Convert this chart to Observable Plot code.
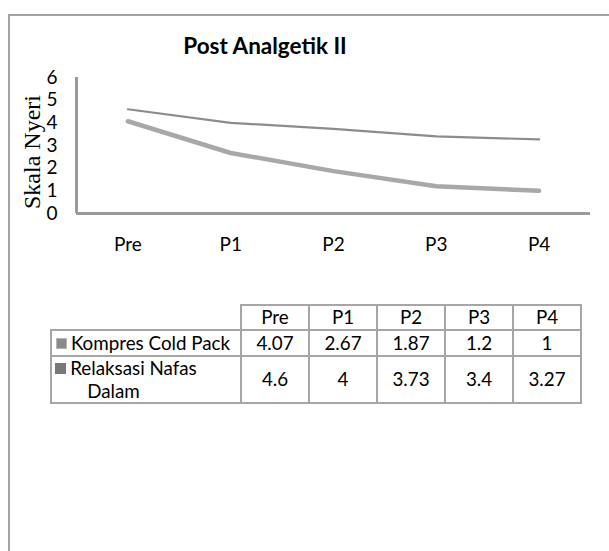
<!DOCTYPE html>
<html><head><meta charset="utf-8">
<script src="https://cdn.jsdelivr.net/npm/d3@7"></script>
<script src="https://cdn.jsdelivr.net/npm/@observablehq/plot@0.6"></script>
<style>
html,body{margin:0;padding:0;background:#fff;}
#wrap{position:relative;width:609px;height:551px;overflow:hidden;background:#fff;font-family:Lato,"Open Sans",sans-serif;color:#000;}
#frame{position:absolute;left:8px;top:14px;width:700px;height:700px;border:2px solid #a3a3a3;box-sizing:border-box;}
#title{position:absolute;left:0;width:530px;top:32px;text-align:center;font-weight:bold;font-size:22.5px;line-height:28px;}
#ylabel{position:absolute;left:32px;top:152px;transform:translate(-50%,-50%) rotate(-90deg);font-family:"Liberation Serif","Times New Roman",serif;font-size:24px;white-space:nowrap;line-height:1;}
#chart{position:absolute;left:0;top:0;}
#chart svg g, #chart svg text{font-size:19px !important;font-family:Lato,"Open Sans",sans-serif;}
#tbl{position:absolute;left:50px;top:304px;border-collapse:collapse;table-layout:fixed;width:530px;font-size:18.8px;}
#tbl td{border:2px solid #a6a6a6;text-align:center;padding:0;line-height:22.5px;}
.sw{display:inline-block;width:9px;height:9px;margin-right:4px;vertical-align:1px;}
</style>
</head><body>
<div id="wrap">
  <div id="frame"></div>
  <div id="chart"></div>
  <div id="title"></div>
  <div id="ylabel"></div>
</div>
<script>
const chartTitle = "Post Analgetik II";
const yLabel = "Skala Nyeri";
const categories = ["Pre", "P1", "P2", "P3", "P4"];
const kompres = [4.07, 2.67, 1.87, 1.2, 1];
const relaksasi = [4.6, 4, 3.73, 3.4, 3.27];
const kompresLabel = ["Kompres Cold Pack"];
const relaksasiLabel = ["Relaksasi Nafas", "Dalam"];
const yTicks = [0, 1, 2, 3, 4, 5, 6];

const kompresRows = categories.map((c, i) => ({i, cat: c, value: kompres[i]}));
const relaksasiRows = categories.map((c, i) => ({i, cat: c, value: relaksasi[i]}));

document.getElementById("title").textContent = chartTitle;
document.getElementById("ylabel").textContent = yLabel;

const chart = Plot.plot({
  width: 609,
  height: 260,
  marginLeft: 76,
  marginRight: 19,
  marginTop: 77,
  marginBottom: 47,
  style: {fontFamily: "Lato", fontSize: "19px", color: "#000", background: "transparent", overflow: "visible"},
  x: {domain: [-0.5, categories.length - 0.5], ticks: categories.map((c, i) => i), tickFormat: i => categories[i], tickSize: 0, tickPadding: 24, label: null},
  y: {domain: [0, 6], ticks: yTicks, tickFormat: d => String(d), tickSize: 0, tickPadding: 19, label: null},
  marks: [
    Plot.line(relaksasiRows, {x: "i", y: "value", stroke: "#8c8c8c", strokeWidth: 2.2}),
    Plot.line(kompresRows, {x: "i", y: "value", stroke: "#a8a8a8", strokeWidth: 4.5}),
    Plot.ruleY([0], {stroke: "#9a9a9a", strokeWidth: 3}),
    Plot.ruleX([-0.5], {stroke: "#9a9a9a", strokeWidth: 3})
  ]
});
document.getElementById("chart").appendChild(chart);

// data table
const tbl = document.createElement("table");
tbl.id = "tbl";
const cg = document.createElement("colgroup");
[190, 68, 68, 68, 68, 68].forEach(w => { const c = document.createElement("col"); c.style.width = w + "px"; cg.appendChild(c); });
tbl.appendChild(cg);
const head = document.createElement("tr");
head.style.height = "25px";
const empty = document.createElement("td");
empty.style.border = "none";
head.appendChild(empty);
categories.forEach(c => { const td = document.createElement("td"); td.textContent = c; head.appendChild(td); });
tbl.appendChild(head);

function addRow(labelLines, values, swColor, swBorder, h, pads) {
  const tr = document.createElement("tr");
  tr.style.height = h + "px";
  const lab = document.createElement("td");
  labelLines.forEach((line, k) => {
    const d = document.createElement("div");
    if (k === 0) {
      const sw = document.createElement("span");
      sw.className = "sw";
      sw.style.background = swColor;
      sw.style.border = "1px solid " + swBorder;
      d.appendChild(sw);
    }
    d.style.paddingRight = pads[k] + "px";
    d.appendChild(document.createTextNode(line));
    lab.appendChild(d);
  });
  tr.appendChild(lab);
  values.forEach(v => { const td = document.createElement("td"); td.textContent = String(v); tr.appendChild(td); });
  tbl.appendChild(tr);
}
addRow(kompresLabel, kompres, "#8a8a8a", "#b5b5b5", 26, [6]);
addRow(relaksasiLabel, relaksasi, "#787878", "#787878", 44, [40, 65]);
document.getElementById("wrap").appendChild(tbl);
</script>
</body></html>
